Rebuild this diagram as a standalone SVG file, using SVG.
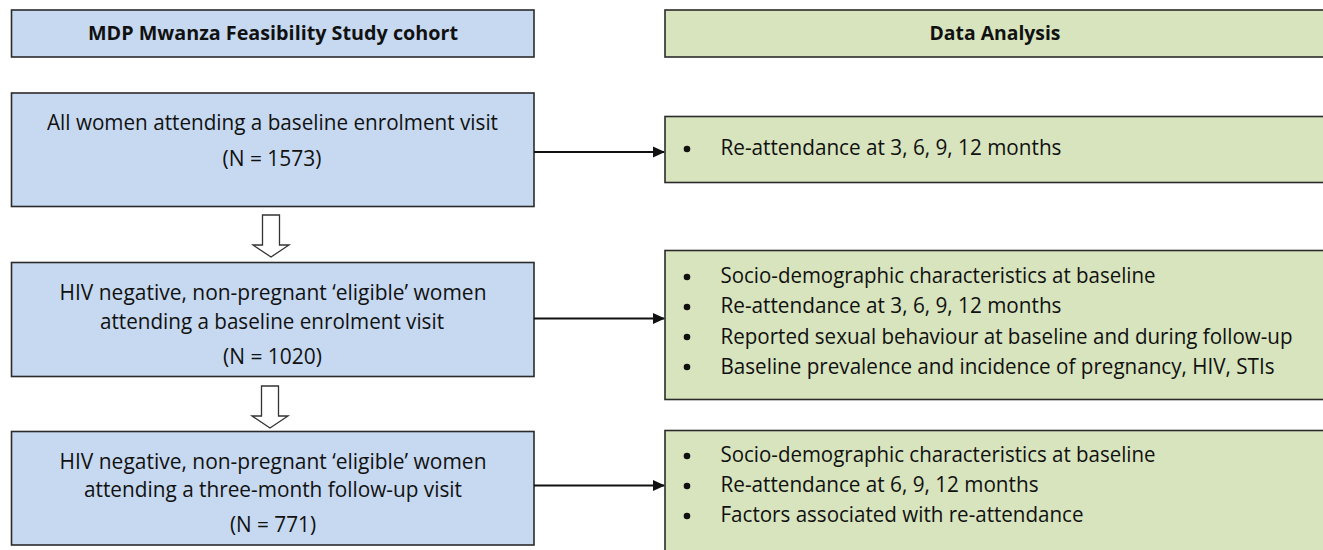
<svg xmlns="http://www.w3.org/2000/svg" width="1323" height="550" viewBox="0 0 1323 550">
<style>
.blue{fill:#c6d9f0;stroke:#2b2b2b;stroke-width:1.6}
.green{fill:#d7e4bd;stroke:#2b2b2b;stroke-width:1.6}
text{font-family:"Open Sans","Liberation Sans",sans-serif;font-size:21px;fill:#111}
.c{text-anchor:middle}
.b{font-weight:bold;font-size:19px}
.dot{fill:#111}
.conn{stroke:#111;stroke-width:1.8;fill:none}
.down{fill:#fff;stroke:#333;stroke-width:1.3}
</style>
<defs>
<marker id="ah" markerWidth="12" markerHeight="12" refX="11" refY="6" orient="auto" markerUnits="userSpaceOnUse">
<path d="M0,0.5 L12,6 L0,11.5 Z" fill="#111"/>
</marker>
</defs>
<g id="hdr-left">
<rect class="blue" x="11.5" y="10" width="522.5" height="47"/>
<text class="c b" x="273" y="40" textLength="370" lengthAdjust="spacingAndGlyphs">MDP Mwanza Feasibility Study cohort</text>
</g>
<g id="hdr-right">
<rect class="green" x="665" y="10" width="670" height="47"/>
<text class="c b" x="995" y="40" textLength="131" lengthAdjust="spacingAndGlyphs">Data Analysis</text>
</g>
<g id="box1">
<rect class="blue" x="11.5" y="93" width="522.5" height="113.5"/>
<text class="c" x="272.5" y="130" textLength="451" lengthAdjust="spacingAndGlyphs">All women attending a baseline enrolment visit</text>
<text class="c" x="272" y="166" textLength="99" lengthAdjust="spacingAndGlyphs">(N = 1573)</text>
</g>
<g id="box2">
<rect class="blue" x="11.5" y="262.5" width="522.5" height="114"/>
<text class="c" x="273" y="300" textLength="427" lengthAdjust="spacingAndGlyphs">HIV negative, non-pregnant ‘eligible’ women</text>
<text class="c" x="272" y="329" textLength="344" lengthAdjust="spacingAndGlyphs">attending a baseline enrolment visit</text>
<text class="c" x="272.5" y="364" textLength="99" lengthAdjust="spacingAndGlyphs">(N = 1020)</text>
</g>
<g id="box3">
<rect class="blue" x="11.5" y="431.5" width="522.5" height="113.5"/>
<text class="c" x="273" y="469" textLength="427" lengthAdjust="spacingAndGlyphs">HIV negative, non-pregnant ‘eligible’ women</text>
<text class="c" x="273" y="497" textLength="378" lengthAdjust="spacingAndGlyphs">attending a three-month follow-up visit</text>
<text class="c" x="273" y="532" textLength="86" lengthAdjust="spacingAndGlyphs">(N = 771)</text>
</g>
<g id="green1">
<rect class="green" x="665" y="116.5" width="670" height="66"/>
<circle class="dot" cx="687" cy="149" r="3.3"/>
<text x="720.5" y="155" textLength="341" lengthAdjust="spacingAndGlyphs">Re-attendance at 3, 6, 9, 12 months</text>
</g>
<g id="green2">
<rect class="green" x="665" y="250.5" width="670" height="149"/>
<circle class="dot" cx="687" cy="277" r="3.3"/>
<text x="720.5" y="283" textLength="435" lengthAdjust="spacingAndGlyphs">Socio-demographic characteristics at baseline</text>
<circle class="dot" cx="687" cy="307" r="3.3"/>
<text x="720.5" y="313" textLength="341" lengthAdjust="spacingAndGlyphs">Re-attendance at 3, 6, 9, 12 months</text>
<circle class="dot" cx="687" cy="337" r="3.3"/>
<text x="720.5" y="344" textLength="572" lengthAdjust="spacingAndGlyphs">Reported sexual behaviour at baseline and during follow-up</text>
<circle class="dot" cx="687" cy="367" r="3.3"/>
<text x="720.5" y="374" textLength="554" lengthAdjust="spacingAndGlyphs">Baseline prevalence and incidence of pregnancy, HIV, STIs</text>
</g>
<g id="green3">
<rect class="green" x="665" y="430.5" width="670" height="140"/>
<circle class="dot" cx="687" cy="456" r="3.3"/>
<text x="720.5" y="462" textLength="435" lengthAdjust="spacingAndGlyphs">Socio-demographic characteristics at baseline</text>
<circle class="dot" cx="687" cy="486" r="3.3"/>
<text x="720.5" y="492" textLength="318" lengthAdjust="spacingAndGlyphs">Re-attendance at 6, 9, 12 months</text>
<circle class="dot" cx="687" cy="516" r="3.3"/>
<text x="720.5" y="522" textLength="363" lengthAdjust="spacingAndGlyphs">Factors associated with re-attendance</text>
</g>
<g id="connectors">
<line class="conn" x1="534" y1="152" x2="664" y2="152" marker-end="url(#ah)"/>
<line class="conn" x1="534" y1="318.5" x2="664" y2="318.5" marker-end="url(#ah)"/>
<line class="conn" x1="534" y1="485.5" x2="664" y2="485.5" marker-end="url(#ah)"/>
<path class="down" d="M262.5,215 H279.5 V245 H289 L271,257 L253,245 H262.5 Z"/>
<path class="down" d="M261.5,386 H278.5 V416 H288 L270,428 L252,416 H261.5 Z"/>
</g>
</svg>
